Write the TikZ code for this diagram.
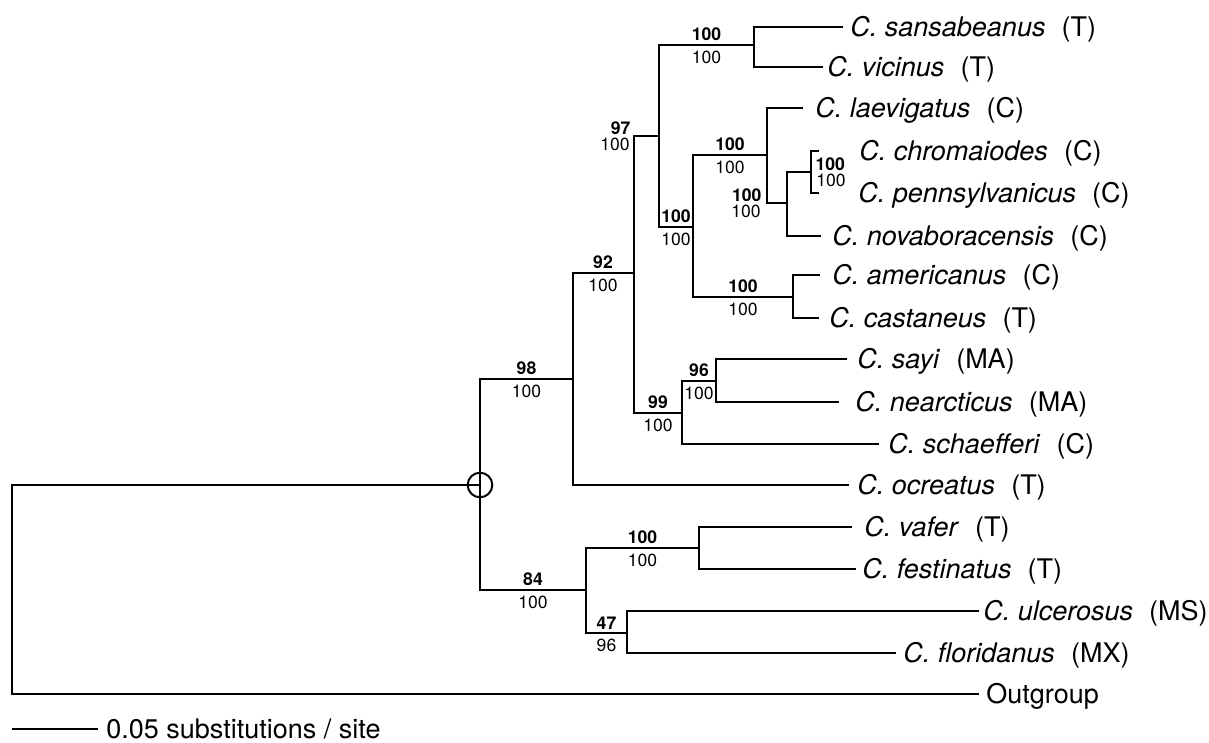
\documentclass[tikz,border=0pt]{standalone}
\usepackage{fontspec}
\setmainfont{TeX Gyre Heros}
\usepackage{tikz}
\usetikzlibrary{positioning}
\tikzset{
  branch/.style={line width=1pt, line cap=rect},
  taxon/.style={anchor=base west, inner sep=0pt, yshift=-4.85pt, font=\fontsize{13.5}{16}\selectfont},
  bsup/.style={above, inner sep=1.8pt, font=\fontsize{8.8}{10}\selectfont\bfseries},
  bsdn/.style={below, inner sep=2.8pt, font=\fontsize{8.8}{10}\selectfont},
}

\begin{document}
\begin{tikzpicture}[x=0.5pt,y=-0.5pt]
    \useasboundingbox (0,0) rectangle (1209,743);

    %%% Inner nodes %%%
    \coordinate (base) at (12,485);     \coordinate (ingrp) at (480,485);
    \coordinate (n98) at (573,379);     \coordinate (n84) at (586,590);
    \coordinate (n92) at (634,273);     \coordinate (n97) at (659,136);
    \coordinate (n99) at (682,413);     \coordinate (n96) at (716,381);
    \coordinate (nsv) at (754,45);      \coordinate (nbig) at (693,227);
    \coordinate (nlae) at (767,155);    \coordinate (nnov) at (787,203);
    \coordinate (nchr) at (811,172);    \coordinate (name) at (793,297);
    \coordinate (nvaf) at (699,548);    \coordinate (n47) at (627,633);

    %%% Leaves %%%
    \coordinate (sansab) at (842,27);   \node[taxon] (t-sansab) at (850,27) {\textit{C. sansabeanus}\hspace{.6em}(T)};
    \coordinate (vicin) at (822,67);    \node[taxon] (t-vicin) at (827,67) {\textit{C. vicinus}\hspace{.6em}(T)};
    \coordinate (laevig) at (802,108);  \node[taxon] (t-laevig) at (815,108) {\textit{C. laevigatus}\hspace{.6em}(C)};
    \coordinate (chrom) at (818,151);   \node[taxon] (t-chrom) at (859,151) {\textit{C. chromaiodes}\hspace{.6em}(C)};
    \coordinate (penn) at (818,193);    \node[taxon] (t-penn) at (858,193) {\textit{C. pennsylvanicus}\hspace{.6em}(C)};
    \coordinate (novab) at (820,236);   \node[taxon] (t-novab) at (832,236) {\textit{C. novaboracensis}\hspace{.6em}(C)};
    \coordinate (americ) at (819,275);  \node[taxon] (t-americ) at (832,275) {\textit{C. americanus}\hspace{.6em}(C)};
    \coordinate (castan) at (818,318);  \node[taxon] (t-castan) at (829,318) {\textit{C. castaneus}\hspace{.6em}(T)};
    \coordinate (sayi) at (846,359);    \node[taxon] (t-sayi) at (857,359) {\textit{C. sayi}\hspace{.6em}(MA)};
    \coordinate (nearct) at (838,402);  \node[taxon] (t-nearct) at (855,402) {\textit{C. nearcticus}\hspace{.6em}(MA)};
    \coordinate (schaef) at (878,444);  \node[taxon] (t-schaef) at (888,444) {\textit{C. schaefferi}\hspace{.6em}(C)};
    \coordinate (ocreat) at (848,485);  \node[taxon] (t-ocreat) at (857,485) {\textit{C. ocreatus}\hspace{.6em}(T)};
    \coordinate (vafer) at (851,527);   \node[taxon] (t-vafer) at (864,527) {\textit{C. vafer}\hspace{.6em}(T)};
    \coordinate (festin) at (855,569);  \node[taxon] (t-festin) at (862,569) {\textit{C. festinatus}\hspace{.6em}(T)};
    \coordinate (ulcer) at (978,611);   \node[taxon] (t-ulcer) at (983,611) {\textit{C. ulcerosus}\hspace{.6em}(MS)};
    \coordinate (florid) at (895,653);  \node[taxon] (t-florid) at (903,653) {\textit{C. floridanus}\hspace{.6em}(MX)};
    \coordinate (outgr) at (978,694);   \node[taxon] (t-outgr) at (986,694) {Outgroup};

    %%% Branches %%%
    \draw[branch] (base) -- (ingrp);    \draw[branch] (base) |- (outgr);
    \draw[branch] (ingrp) |- (n98);     \draw[branch] (ingrp) |- (n84);
    \draw[branch] (n98) |- (n92);       \draw[branch] (n98) |- (ocreat);
    \draw[branch] (n92) |- (n97);       \draw[branch] (n92) |- (n99);
    \draw[branch] (n97) |- (nsv);       \draw[branch] (n97) |- (nbig);
    \draw[branch] (nsv) |- (sansab);    \draw[branch] (nsv) |- (vicin);
    \draw[branch] (nbig) |- (nlae);     \draw[branch] (nbig) |- (name);
    \draw[branch] (nlae) |- (laevig);   \draw[branch] (nlae) |- (nnov);
    \draw[branch] (nnov) |- (nchr);     \draw[branch] (nnov) |- (novab);
    \draw[branch] (nchr) |- (chrom);    \draw[branch] (nchr) |- (penn);
    \draw[branch] (name) |- (americ);   \draw[branch] (name) |- (castan);
    \draw[branch] (n99) |- (n96);       \draw[branch] (n99) |- (schaef);
    \draw[branch] (n96) |- (sayi);      \draw[branch] (n96) |- (nearct);
    \draw[branch] (n84) |- (nvaf);      \draw[branch] (n84) |- (n47);
    \draw[branch] (nvaf) |- (vafer);    \draw[branch] (nvaf) |- (festin);
    \draw[branch] (n47) |- (ulcer);     \draw[branch] (n47) |- (florid);
    \draw[line width=1pt] (ingrp) circle[radius=6.15pt];

    %%% Support values %%%
    \node[bsup] (b98) at (526.5,379) {98};   \node[bsdn] (p98) at (526.5,379) {100};
    \node[bsup] (b92) at (603,273) {92};     \node[bsdn] (p92) at (603,273) {100};
    \node[bsup, anchor=south east, inner sep=0.6pt] (b97) at (632,136) {97};
    \node[bsdn, anchor=north east, inner sep=1pt] (p97) at (632,136) {100};
    \node[bsup] (bsv) at (706.5,45) {100};   \node[bsdn] (psv) at (706.5,45) {100};
    \node[bsup] (bbig) at (676,227) {100};   \node[bsdn] (pbig) at (676,227) {100};
    \node[bsup] (blae) at (730,155) {100};   \node[bsdn] (plae) at (730,155) {100};
    \node[bsup, anchor=south east, inner sep=0.6pt] (bnov) at (763,203) {100};
    \node[bsdn, anchor=north east, inner sep=1pt] (pnov) at (763,203) {100};
    \node[bsup, anchor=south west, inner sep=0.6pt] (bchr) at (814,172) {100};
    \node[bsdn, anchor=north west, inner sep=1pt] (pchr) at (814,172) {100};
    \node[bsup] (bame) at (743,297) {100};   \node[bsdn] (pame) at (743,297) {100};
    \node[bsup] (b99) at (658,413) {99};     \node[bsdn] (p99) at (658,413) {100};
    \node[bsup] (b96) at (699,381) {96};     \node[bsdn] (p96) at (699,381) {100};
    \node[bsup] (b84) at (533,590) {84};     \node[bsdn] (p84) at (533,590) {100};
    \node[bsup] (bvaf) at (642.5,548) {100}; \node[bsdn] (pvaf) at (642.5,548) {100};
    \node[bsup] (b47) at (606.5,633) {47};   \node[bsdn] (p47) at (606.5,633) {96};

    %%% Scale bar %%%
    \coordinate (sb0) at (12,729);      \coordinate (sb1) at (98,729);
    \draw[line width=1pt] (sb0) -- (sb1);
    \node[taxon] (t-sb) at (106,729) {0.05 substitutions / site};

\end{tikzpicture}
\end{document}
